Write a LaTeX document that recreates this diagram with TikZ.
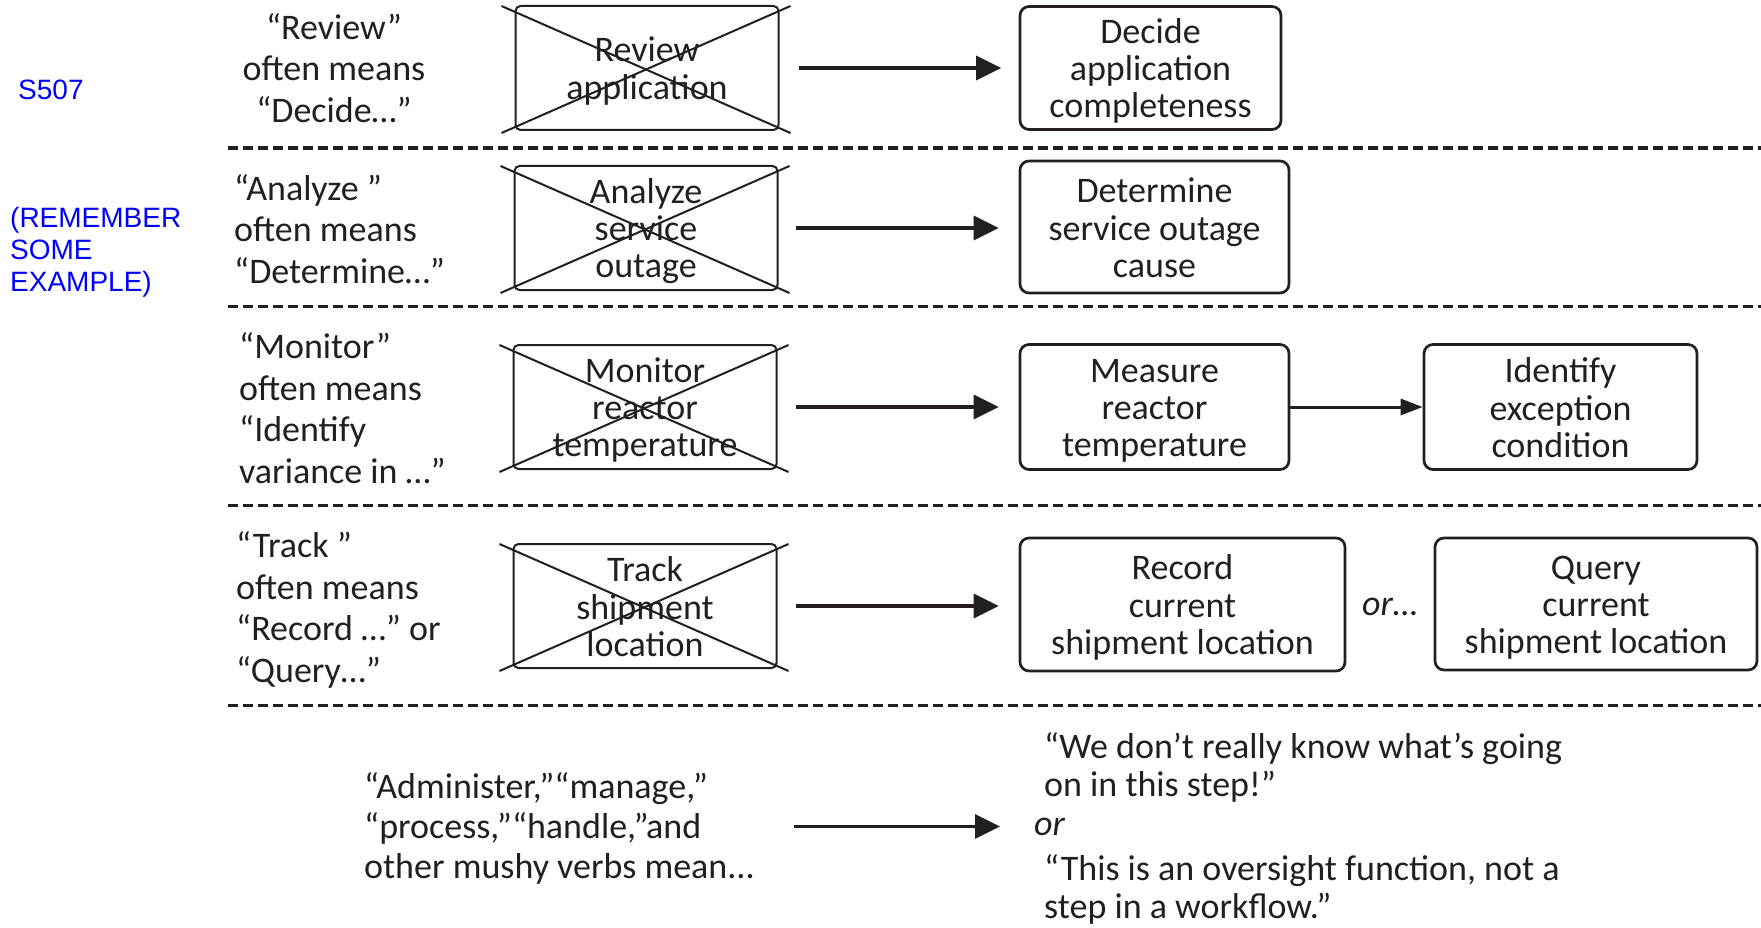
\documentclass[tikz,border=0pt]{standalone}
\usepackage{fontspec}
\setmainfont{Carlito}
\newfontfamily\notefont{Liberation Sans}
\usetikzlibrary{arrows.meta,calc}

\definecolor{ink}{RGB}{35,31,32}
\definecolor{noteblue}{RGB}{0,0,255}

% struts fixing the height of first lines and depth of last lines
\newcommand\lstrut{\rule[-7pt]{0pt}{36pt}}
\newcommand\bstrut{\rule[-5pt]{0pt}{36pt}}
\newcommand\nstrut{\rule[-6pt]{0pt}{31pt}}

\tikzset{
  txt/.style={font=\fontsize{36}{37.3}\selectfont, text=ink, inner sep=0pt, align=center},
  crossbox/.style={txt, draw=ink, line width=2pt, rounded corners=5pt,
                   minimum width=263pt, minimum height=124pt},
  stepbox/.style={txt, draw=ink, line width=2.7pt, rounded corners=9pt},
  strike/.style={draw=ink, line width=2pt},
  flow/.style={draw=ink, line width=3.2pt, -{Triangle[length=25pt,width=24pt]}},
  flowsmall/.style={draw=ink, line width=3pt, -{Triangle[length=22pt,width=16pt]}},
  sepline/.style={draw=ink, line width=3.3pt, dash pattern=on 9.5pt off 5.5pt},
  lefttxt/.style={font=\fontsize{36}{41.5}\selectfont, text=ink, inner sep=0pt,
                  align=left, anchor=north west},
  note/.style={font=\notefont\fontsize{28}{32}\selectfont, text=noteblue,
               inner sep=0pt, align=left},
}

\begin{document}
\begin{tikzpicture}[x=1pt,y=-1pt]
\useasboundingbox (0,0) rectangle (1761,928);

% margin notes
\node[note, anchor=base west] (s507) at (18,100) {S507};
\node[note, anchor=north west] (remember) at (10,202) {\nstrut(REMEMBER\\SOME\\EXAMPLE)};

% row separators
\foreach \yy in {148,306.5,505.5,705.5}
  \draw[sepline] (228,\yy) -- (1761,\yy);

% ---- row 1 ----
\node[lefttxt, anchor=north, align=center] (l1) at (334,10.2)
  {\lstrut “Review”\\often means\\“Decide…”\lstrut};
\node[crossbox] (x1) at (647,68) {\bstrut Review\\application\bstrut};
\node[stepbox, minimum width=261pt, minimum height=123pt] (r1) at (1150.5,68)
  {\bstrut Decide\\application\\completeness\bstrut};

% ---- row 2 ----
\node[lefttxt] (l2) at (234,171)
  {\lstrut “Analyze ”\\often means\\“Determine…”\lstrut};
\node[crossbox] (x2) at (646,228) {\bstrut Analyze\\service\\outage\bstrut};
\node[stepbox, minimum width=269pt, minimum height=132pt] (r2) at (1154.5,227)
  {\bstrut Determine\\service outage\\cause\bstrut};

% ---- row 3 ----
\node[lefttxt] (l3) at (239,329.5)
  {\lstrut “Monitor”\\often means\\“Identify\\variance in …”\lstrut};
\node[crossbox] (x3) at (645,407) {\bstrut Monitor\\reactor\\temperature\bstrut};
\node[stepbox, minimum width=269pt, minimum height=125pt] (r3) at (1154.5,407)
  {\bstrut Measure\\reactor\\temperature\bstrut};
\node[stepbox, minimum width=273pt, minimum height=125pt] (r3b) at (1560.5,407)
  {\bstrut Identify\\exception\\condition\bstrut};

% ---- row 4 ----
\node[lefttxt] (l4) at (236,528.5)
  {\lstrut “Track ”\\often means\\“Record …” or\\“Query…”\lstrut};
\node[crossbox] (x4) at (645,606) {\bstrut Track\\shipment\\location\bstrut};
\node[stepbox, minimum width=325pt, minimum height=133pt] (r4) at (1182.5,604.5)
  {\bstrut Record\\current\\shipment location\bstrut};
\node[stepbox, minimum width=322pt, minimum height=132pt] (r4b) at (1596,604)
  {\bstrut Query\\current\\shipment location\bstrut};
\node[txt, anchor=base, font=\fontsize{36}{37.3}\selectfont\itshape] (or4) at (1390,615) {or…};

% ---- row 5 ----
\node[lefttxt, font=\fontsize{36}{40}\selectfont] (mushy) at (364,769)
  {\lstrut “Administer,”“manage,”\\“process,”“handle,”and\\other mushy verbs mean.{}.{}.\lstrut};
\node[lefttxt, font=\fontsize{36}{38.7}\selectfont] (ans1) at (1044,729)
  {\lstrut “We don’t really know what’s going\\on in this step!”\lstrut};
\node[txt, anchor=base west, font=\fontsize{36}{37.3}\selectfont\itshape] (ors) at (1034,835) {or};
\node[lefttxt, font=\fontsize{36}{38}\selectfont] (ans2) at (1044,851)
  {\lstrut “This is an oversight function, not a\\step in a workflow.”\lstrut};

% crossed-out step names
\foreach \b in {x1,x2,x3,x4}{
  \draw[strike] ($(\b.north west)+(-13,1)$) -- ($(\b.south east)+(11,2)$);
  \draw[strike] ($(\b.south west)+(-13,2)$) -- ($(\b.north east)+(11,1)$);
}

% connectors
\draw[flow, shorten <=19pt, shorten >=17.5pt] (x1.east) -- (x1.east -| r1.west);
\draw[flow, shorten <=17.5pt, shorten >=20pt] (x2.east) -- (x2.east -| r2.west);
\draw[flow, shorten <=18pt, shorten >=20pt] (x3.east) -- (x3.east -| r3.west);
\draw[flowsmall] (r3.east) -- (r3b.west);
\draw[flow, shorten <=18pt, shorten >=20pt] (x4.east) -- (x4.east -| r4.west);
\coordinate (v5) at (794,826.5);
\draw[flow, shorten >=34pt] (v5) -- (v5 -| ors.west);
\end{tikzpicture}
\end{document}
